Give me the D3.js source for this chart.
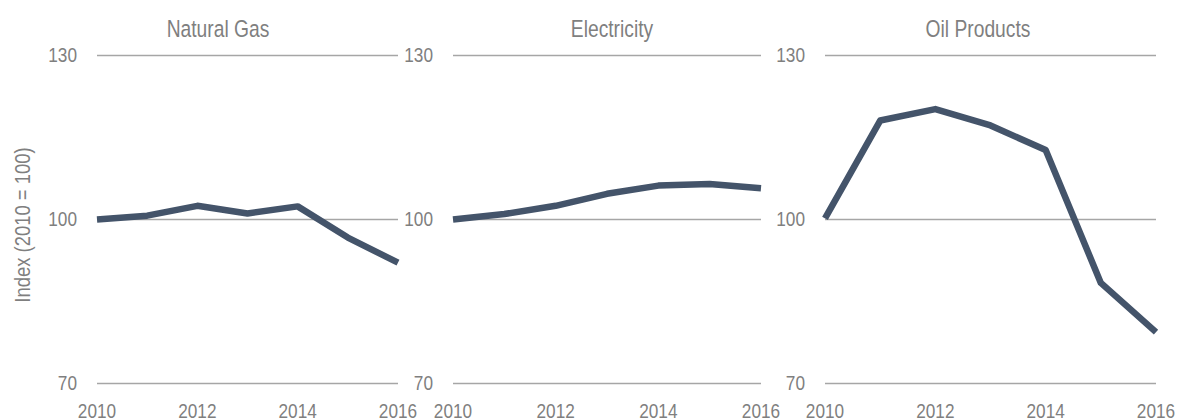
<!DOCTYPE html>
<html>
<head>
<meta charset="utf-8">
<script src="https://cdn.jsdelivr.net/npm/d3@7"></script>
<style>
  html, body { margin: 0; padding: 0; background: #ffffff; }
  svg { display: block; }
  text { font-family: "Liberation Sans", Arial, sans-serif; fill: #7f7f7f; }
</style>
</head>
<body>
<svg id="chart" width="1178" height="420"></svg>
<script>
// ---- Data ----
const years = [2010, 2011, 2012, 2013, 2014, 2015, 2016];
const panelTitles = ["Natural Gas", "Electricity", "Oil Products"];
const naturalGas = [100, 100.7, 102.5, 101.1, 102.4, 96.7, 92.1];
const electricity = [100, 101.0, 102.5, 104.7, 106.2, 106.5, 105.7];
const oilProducts = [100.2, 118.1, 120.2, 117.2, 112.7, 88.4, 79.4];
const yTicks = [70, 100, 130];
const xTickYears = [2010, 2012, 2014, 2016];
const yAxisTitle = "Index (2010 = 100)";

const seriesList = [naturalGas, electricity, oilProducts];

// ---- Layout ----
const panels = [
  { x0: 97, x1: 398, titleX: 218 },
  { x0: 453, x1: 761, titleX: 612 },
  { x0: 825, x1: 1156, titleX: 978 }
];
const yTop = 55.5, yBottom = 383.5;
const narrow = 0.82; // emulate a narrow typeface

const svg = d3.select("#chart");
const y = d3.scaleLinear().domain([70, 130]).range([yBottom, yTop]);

function narrowText(sel, tx, ty, size, anchor) {
  sel.attr("transform", (d, i) => `translate(${tx(d, i)},${ty(d, i)}) scale(${narrow},1)`)
    .attr("text-anchor", anchor)
    .style("font-size", size + "px");
  return sel;
}

panels.forEach((p, i) => {
  const x = d3.scaleLinear().domain([2010, 2016]).range([p.x0, p.x1]);
  const g = svg.append("g");

  // gridlines
  g.selectAll("line.grid").data(yTicks).enter().append("line")
    .attr("x1", p.x0).attr("x2", p.x1)
    .attr("y1", d => y(d)).attr("y2", d => y(d))
    .attr("stroke", "#a6a6a6").attr("stroke-width", 1.5);

  // y tick labels
  narrowText(g.selectAll("text.ytick").data(yTicks).enter().append("text"),
    () => p.x0 - 20, d => y(d) + 6.5, 21, "end")
    .text(d => d);

  // x tick labels
  narrowText(g.selectAll("text.xtick").data(xTickYears).enter().append("text"),
    d => x(d), () => 417.5, 21, "middle")
    .text(d => d);

  // title
  narrowText(g.append("text").datum(panelTitles[i]),
    () => p.titleX, () => 36.5, 23.5, "middle")
    .text(d => d);

  // line
  const line = d3.line().x((d, j) => x(years[j])).y(d => y(d));
  g.append("path")
    .datum(seriesList[i])
    .attr("d", line)
    .attr("fill", "none")
    .attr("stroke", "#44546a")
    .attr("stroke-width", 6.5)
    .attr("stroke-linejoin", "round")
    .attr("stroke-linecap", "butt");
});

// y axis title
svg.append("text")
  .attr("transform", `translate(29.5,225) rotate(-90) scale(${narrow},1)`)
  .attr("text-anchor", "middle")
  .style("font-size", "22.5px")
  .text(yAxisTitle);
</script>
</body>
</html>
